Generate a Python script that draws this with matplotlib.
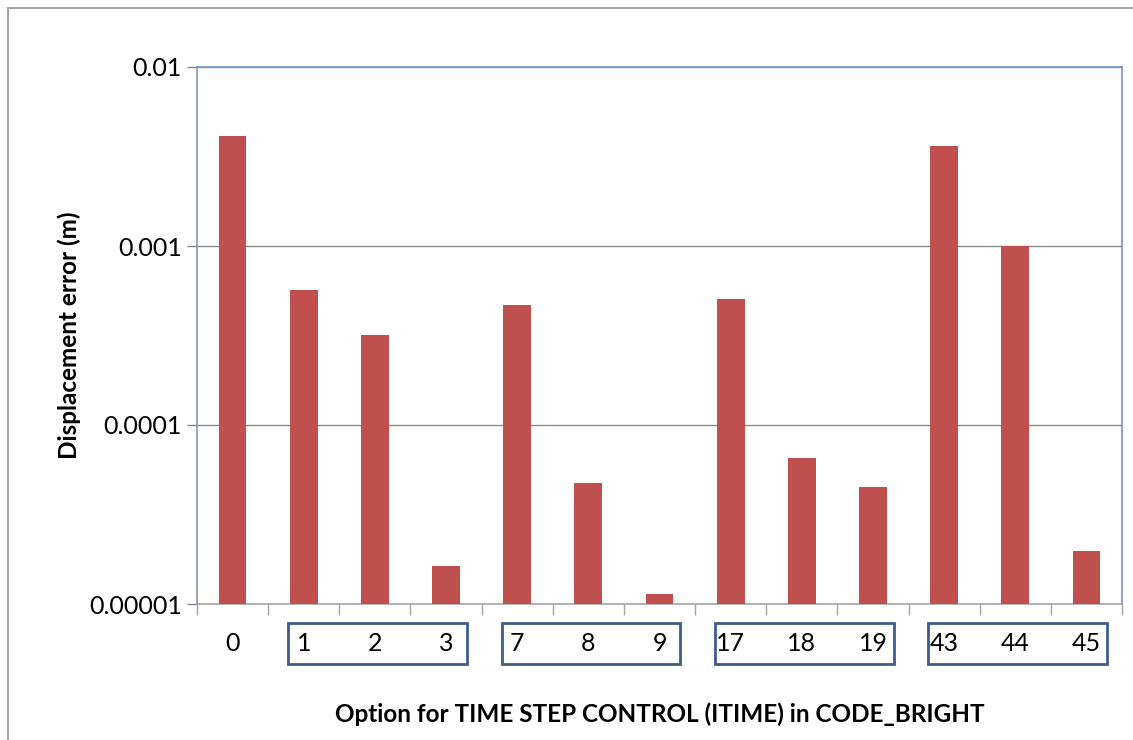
import matplotlib.pyplot as plt
from matplotlib.patches import Rectangle
import matplotlib.transforms as mtransforms
import numpy as np

# Displacement error per ITIME option
options = ["0", "1", "2", "3", "7", "8", "9", "17", "18", "19", "43", "44", "45"]
errors = [4.1e-3, 5.7e-4, 3.2e-4, 1.63e-5, 4.68e-4, 4.74e-5, 1.14e-5,
          5.06e-4, 6.55e-5, 4.51e-5, 3.62e-3, 1.0e-3, 1.98e-5]
# groups of options boxed under the axis (first, last index)
groups = [(1, 3), (4, 6), (7, 9), (10, 12)]

plt.rcParams["font.family"] = ["Lato", "DejaVu Sans"]

fig = plt.figure(figsize=(11.33, 7.40), dpi=100)
ax = fig.add_axes([197 / 1133, 1 - 604 / 740, 925 / 1133, 537 / 740])

x = np.arange(len(options))
ax.bar(x, errors, width=0.39, color="#C0504D", zorder=3)

ax.set_yscale("log")
ax.set_ylim(1e-5, 1e-2)
ax.set_xlim(-0.5, len(options) - 0.5)
ax.set_yticks([1e-5, 1e-4, 1e-3, 1e-2])
ax.set_yticklabels(["0.00001", "0.0001", "0.001", "0.01"])
ax.yaxis.set_minor_locator(plt.NullLocator())
ax.tick_params(axis="y", length=7, width=1, color="#868686", labelsize=18, pad=4)

ax.set_xticks(x)
ax.set_xticklabels(options)
ax.tick_params(axis="x", length=0, labelsize=18, pad=20)
ax.set_xticks(np.arange(len(options) + 1) - 0.5, minor=True)
ax.tick_params(axis="x", which="minor", length=8, width=1, color="#A6A6A6")

ax.grid(axis="y", which="major", color="#8C8C8C", linewidth=1, zorder=0)

ax.spines["left"].set_color("#8797AE")
ax.spines["bottom"].set_color("#A6A6A6")
ax.spines["top"].set_color("#7196CB")
ax.spines["right"].set_color("#7196CB")
for s in ax.spines.values():
    s.set_linewidth(1.2)

ax.set_ylabel("Displacement error (m)", fontsize=17.5, fontweight="bold", labelpad=6)
ax.set_xlabel("Option for TIME STEP CONTROL (ITIME) in CODE_BRIGHT",
              fontsize=17.5, fontweight="bold", labelpad=34)

# boxes around groups of tick labels
trans = mtransforms.blended_transform_factory(ax.transData, ax.transAxes)
for first, last in groups:
    left = first - 0.22
    right = last + 0.29
    ax.add_patch(Rectangle((left, -0.112), right - left, 0.077, transform=trans,
                           fill=False, edgecolor="#3B5E8C", linewidth=2,
                           clip_on=False, zorder=5))

# outer chart border
fig.patches.append(Rectangle((8 / 1133, -0.1), 1.2, 1 - 8 / 740 + 0.1,
                             transform=fig.transFigure, fill=False,
                             edgecolor="#A6A6A6", linewidth=1.5))

fig.savefig("out.png", dpi=100)
